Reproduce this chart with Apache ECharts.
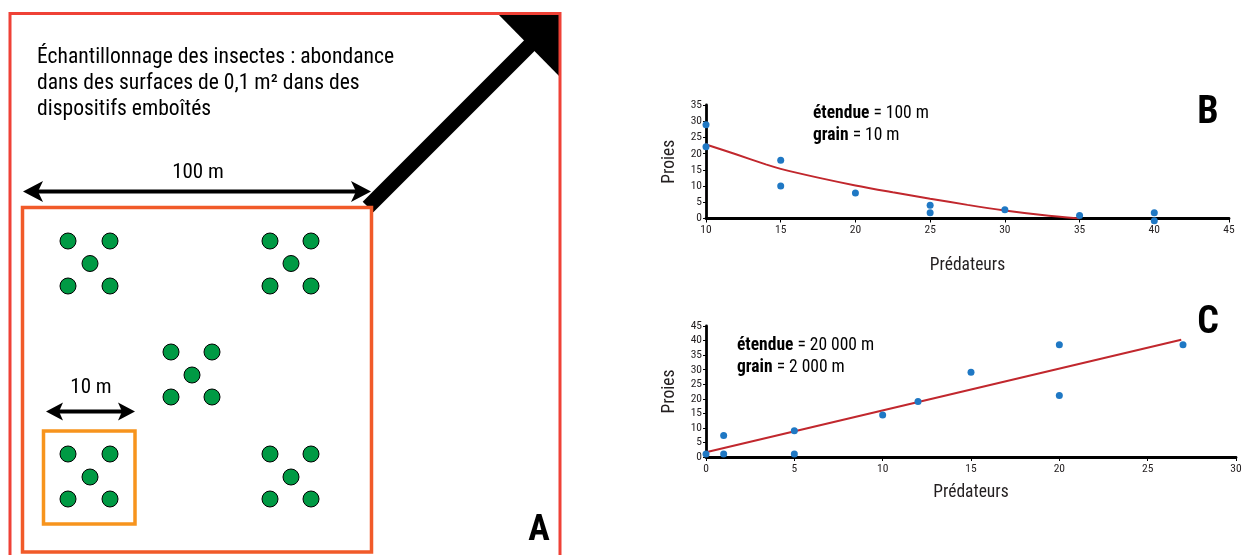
<!DOCTYPE html>
<html><head><meta charset="utf-8">
<script src="https://cdn.jsdelivr.net/npm/echarts@6/dist/echarts.min.js"></script>
<style>html,body{margin:0;padding:0;background:#fff}#c{width:1246px;height:555px}</style>
</head><body><div id="c"></div><script>
const FONT = "'Roboto Condensed','Liberation Sans Narrow','DejaVu Sans Condensed',Roboto,sans-serif";

// ---- Panel B : étendue 100 m, grain 10 m ----
const bPredators = [10, 10, 15, 15, 20, 25, 25, 30, 35, 40, 40];
const bPrey      = [28.9, 22.1, 18, 10, 7.9, 4.1, 1.8, 2.7, 0.9, 1.8, -0.7];
const bFitPredators = [10, 12, 14, 15, 17.5, 20, 22.5, 25, 27.5, 30, 32.5, 35];
const bFitPrey      = [22.8, 19.8, 16.7, 15.3, 12.6, 10.2, 8.1, 6.1, 4.2, 2.5, 1.1, 0];
const bXRange = [10, 45, 5];   // min, max, step
const bYRange = [0, 35, 5];

// ---- Panel C : étendue 20 000 m, grain 2 000 m ----
const cPredators = [0, 1, 1, 5, 5, 10, 12, 15, 20, 20, 27];
const cPrey      = [1, 7.4, 1, 9, 1, 14.4, 19.1, 29.1, 38.6, 21.1, 38.6];
const cFitPredators = [0, 26.9];
const cFitPrey      = [1.6, 40.3];
const cXRange = [0, 30, 5];
const cYRange = [0, 45, 5];

// ---- Panel A : sampling plots (nested design), positions in picture units ----
const plotX = [68,110,90,68,110, 270,311,291,270,311, 171,212,192,171,212, 68,110,90,68,110, 270,311,291,270,311];
const plotY = [241,241,263.5,286,286, 241,241,263.5,286,286, 352,352,375,397,397, 454,454,477,499,499, 454,454,477,499,499];

const texts = {
  title: ['Échantillonnage des insectes : abondance', 'dans des surfaces de 0,1 m² dans des', 'dispositifs emboîtés'],
  bigScale: '100 m', smallScale: '10 m',
  yName: 'Proies', xName: 'Prédateurs',
  bNote: ['étendue', ' = 100 m', 'grain', ' = 10 m'],
  cNote: ['étendue', ' = 20 000 m', 'grain', ' = 2 000 m']
};

const zip = (a, b) => a.map((v, i) => [v, b[i]]);
const TXT = '#231f20';

function axX(r, gi, gap) {
  return { type: 'value', gridIndex: gi, min: r[0], max: r[1], interval: r[2],
    name: texts.xName, nameLocation: 'middle', nameGap: gap,
    nameTextStyle: { fontFamily: FONT, fontSize: 17.5, color: TXT },
    axisLine: { show: true, onZero: false, lineStyle: { color: '#000', width: 2.8 } },
    axisTick: { show: true, length: 4, lineStyle: { color: '#000', width: 1 } },
    axisLabel: { fontFamily: FONT, fontSize: 11.5, color: TXT, margin: 6 },
    splitLine: { show: false } };
}
function axY(r, gi) {
  return { type: 'value', gridIndex: gi, min: r[0], max: r[1], interval: r[2],
    name: texts.yName, nameLocation: 'middle', nameGap: 27, nameRotate: 90,
    nameTextStyle: { fontFamily: FONT, fontSize: 17.5, color: TXT },
    axisLine: { show: true, onZero: false, lineStyle: { color: '#000', width: 2.8 } },
    axisTick: { show: true, length: 3, lineStyle: { color: '#000', width: 1 } },
    axisLabel: { fontFamily: FONT, fontSize: 11.5, color: TXT, margin: 4 },
    splitLine: { show: false } };
}

function note(arr, x, y) {
  const rich = { b: { fontFamily: FONT, fontWeight: 'bold', fontSize: 17.5, fill: '#000' } };
  return [
    { type: 'text', x: x, y: y, style: { text: '{b|' + arr[0] + '}' + arr[1], textVerticalAlign: 'middle',
      rich: rich, fontFamily: FONT, fontSize: 17.5, fill: '#000' } },
    { type: 'text', x: x, y: y + 21.5, style: { text: '{b|' + arr[2] + '}' + arr[3], textVerticalAlign: 'middle',
      rich: rich, fontFamily: FONT, fontSize: 17.5, fill: '#000' } }
  ];
}

function arrowHeads(x1, x2, y, len, hw, notch) {
  return [
    { type: 'polygon', shape: { points: [[x1, y], [x1 + len, y - hw], [x1 + len - notch, y], [x1 + len, y + hw]] }, style: { fill: '#000' } },
    { type: 'polygon', shape: { points: [[x2, y], [x2 - len, y - hw], [x2 - len + notch, y], [x2 - len, y + hw]] }, style: { fill: '#000' } },
    { type: 'line', shape: { x1: x1 + len - notch, y1: y, x2: x2 - len + notch, y2: y }, style: { stroke: '#000', lineWidth: 4 } }
  ];
}

const graphics = [].concat(
  // big diagonal arrow
  [{ type: 'line', z: 1, shape: { x1: 368, y1: 207, x2: 531, y2: 44 }, style: { stroke: '#000', lineWidth: 15, lineCap: 'butt' } },
   { type: 'polygon', z: 1, shape: { points: [[497, 13], [560, 13], [560, 77]] }, style: { fill: '#000' } }],
  // frames
  [{ type: 'rect', z: 2, shape: { x: 10, y: 13.5, width: 550, height: 560 }, style: { fill: null, stroke: '#ef4136', lineWidth: 3 } },
   { type: 'rect', z: 2, shape: { x: 22.5, y: 207.5, width: 349, height: 344.5 }, style: { fill: null, stroke: '#f15a29', lineWidth: 3.5 } },
   { type: 'rect', z: 2, shape: { x: 43.5, y: 431, width: 91.5, height: 93 }, style: { fill: null, stroke: '#f7941d', lineWidth: 3.5 } }],
  arrowHeads(23, 371, 191.5, 20, 10.5, 5),
  arrowHeads(46, 135, 411.5, 17, 9, 4),
  texts.title.map((t, i) => ({ type: 'text', x: 37, y: 57.5 + i * 25.8, style: { text: t, textVerticalAlign: 'middle', fontFamily: FONT, fontSize: 21.6, fill: '#000' } })),
  [{ type: 'text', x: 198, y: 173, style: { text: texts.bigScale, textAlign: 'center', textVerticalAlign: 'middle', fontFamily: FONT, fontSize: 21, fill: '#000' } },
   { type: 'text', x: 91, y: 388, style: { text: texts.smallScale, textAlign: 'center', textVerticalAlign: 'middle', fontFamily: FONT, fontSize: 21, fill: '#000' } },
   { type: 'text', x: 539, y: 531, style: { text: 'A', textAlign: 'center', textVerticalAlign: 'middle', fontFamily: FONT, fontWeight: 'bold', fontSize: 36, fill: '#000' } },
   { type: 'text', x: 1208, y: 113, style: { text: 'B', textAlign: 'center', textVerticalAlign: 'middle', fontFamily: FONT, fontWeight: 'bold', fontSize: 38, fill: '#000' } },
   { type: 'text', x: 1208, y: 323, style: { text: 'C', textAlign: 'center', textVerticalAlign: 'middle', fontFamily: FONT, fontWeight: 'bold', fontSize: 38, fill: '#000' } }],
  note(texts.bNote, 813, 114),
  note(texts.cNote, 737, 346)
);

const chart = echarts.init(document.getElementById('c'), null, { renderer: 'canvas' });
chart.setOption({
  animation: false,
  backgroundColor: '#fff',
  grid: [
    { left: 706, right: 17, top: 105, height: 113.5 },
    { left: 706, right: 10, top: 326, height: 131 },
    { left: 0, right: 0, top: 0, bottom: 0 }
  ],
  xAxis: [axX(bXRange, 0, 38), axX(cXRange, 1, 27),
    { type: 'value', gridIndex: 2, min: 0, max: 1246, show: false }],
  yAxis: [axY(bYRange, 0), axY(cYRange, 1),
    { type: 'value', gridIndex: 2, min: 0, max: 555, inverse: true, show: false }],
  graphic: graphics,
  series: [
    { type: 'line', xAxisIndex: 0, yAxisIndex: 0, data: zip(bFitPredators, bFitPrey), smooth: 0.3, symbol: 'none',
      lineStyle: { color: '#c1272d', width: 2 }, z: 2 },
    { type: 'scatter', xAxisIndex: 0, yAxisIndex: 0, data: zip(bPredators, bPrey), symbolSize: 7, clip: false,
      itemStyle: { color: '#1f78c4', opacity: 1 }, z: 3 },
    { type: 'line', xAxisIndex: 1, yAxisIndex: 1, data: zip(cFitPredators, cFitPrey), symbol: 'none',
      lineStyle: { color: '#c1272d', width: 2 }, z: 2 },
    { type: 'scatter', xAxisIndex: 1, yAxisIndex: 1, data: zip(cPredators, cPrey), symbolSize: 7, clip: false,
      itemStyle: { color: '#1f78c4', opacity: 1 }, z: 3 },
    { type: 'scatter', xAxisIndex: 2, yAxisIndex: 2, data: zip(plotX, plotY), symbolSize: 16, silent: true,
      itemStyle: { color: '#009a44', borderColor: '#000', borderWidth: 1, opacity: 1 }, z: 5 }
  ]
});
</script></body></html>
